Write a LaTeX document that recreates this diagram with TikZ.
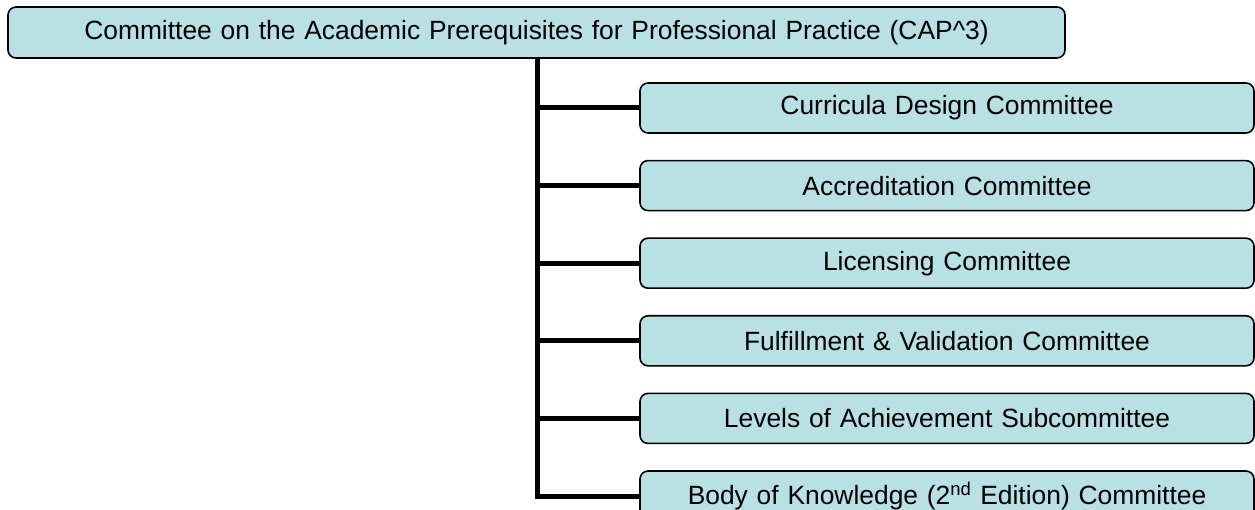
\documentclass[tikz,border=0pt]{standalone}
\usepackage{fontspec}
\setmainfont{Liberation Sans}
\usetikzlibrary{positioning}
\definecolor{boxfill}{RGB}{185,224,227}

\begin{document}
\begin{tikzpicture}[x=1pt, y=1pt, node distance={26pt},
    box/.style = {draw, line width=1.6pt, fill=boxfill, rounded corners=8pt,
                  minimum height=50pt, text width=#1, align=center,
                  inner sep=0pt, font=\fontsize{26.4}{30}\selectfont},
    link/.style = {line width=5pt}]
    \useasboundingbox (0,0) rectangle (1255,-510);

    \node[box=1057pt, minimum height=51pt] (0) at (536.5,-32.5)
        {Committee on the Academic Prerequisites for Professional Practice (CAP\^{}3)};
    \node[box=614pt] (1) at (947,-108) {Curricula Design Committee};
    \node[box=614pt] (2) [below=of 1] {Accreditation Committee};
    \node[box=614pt] (3) [below=of 2] {Licensing Committee};
    \node[box=614pt] (4) [below=of 3] {Fulfillment \& Validation Committee};
    \node[box=614pt] (5) [below=of 4] {Levels of Achievement Subcommittee};
    \node[box=614pt] (6) [below=of 5] {Body of Knowledge (2\textsuperscript{nd} Edition) Committee};

    \coordinate (trunk) at (537,0);
    \draw[link] (0.south -| trunk) -- ([yshift=-2.5pt]trunk |- 6.west);
    \foreach \i in {1,...,6}
        \draw[link] (trunk |- \i.west) -- (\i.west);
\end{tikzpicture}
\end{document}
